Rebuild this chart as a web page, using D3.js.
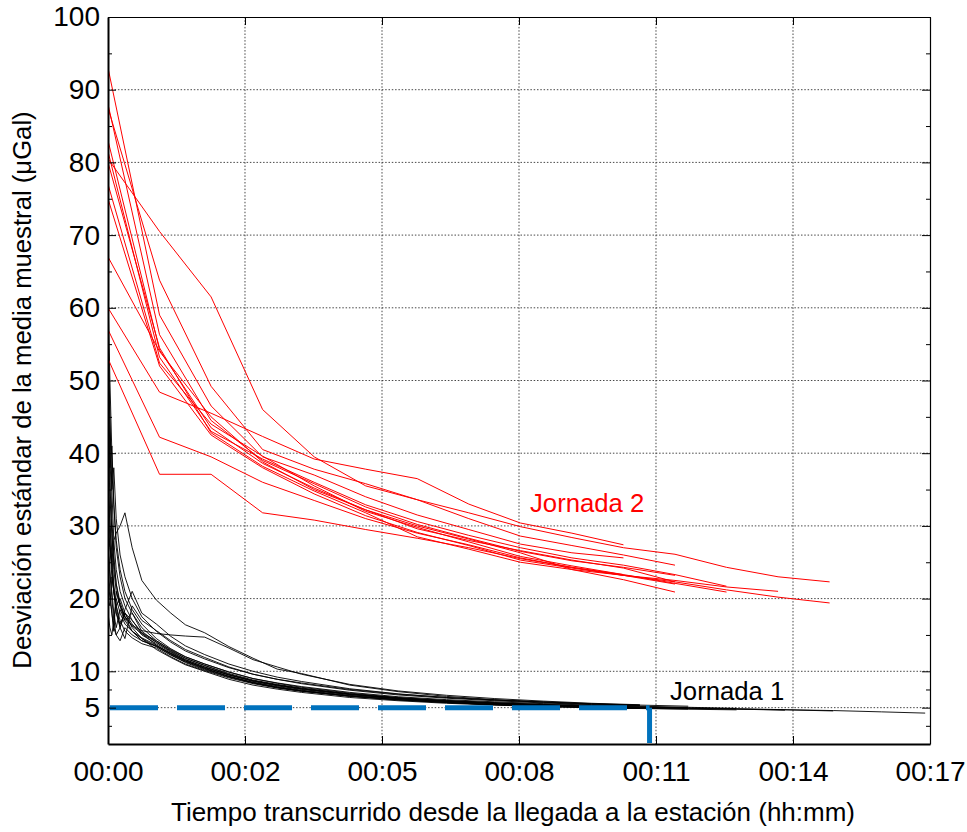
<!DOCTYPE html>
<html>
<head>
<meta charset="utf-8">
<script src="https://cdn.jsdelivr.net/npm/d3@7"></script>
<style>
  html, body { margin: 0; padding: 0; background: #fff; }
  svg text { font-family: Arial, "Liberation Sans", sans-serif; fill: #000; }
</style>
</head>
<body>
<svg id="chart" width="967" height="832"></svg>
<script>
// ---- Axis ticks -----------------------------------------------------------
const xTickValues = [0, 2.8333, 5.6667, 8.5, 11.3333, 14.1667, 17];   // minutes
const xTickLabels = ["00:00", "00:02", "00:05", "00:08", "00:11", "00:14", "00:17"];
const yTickValues = [5, 10, 20, 30, 40, 50, 60, 70, 80, 90, 100];
const yMinorTicks = [2.5, 7.5, 15, 25, 35, 45, 55, 65, 75, 85, 95];

// ---- Jornada 2 (red): one value per reading, readings every ~1.066 min ---
const redStep = 1.066;
const jornada2 = [
  [93, 59, 46.5, 39.5, 37.0, 34.0, 31.5, 29.5, 27.5, 26.3, 25.6],
  [88, 56.3, 44.5, 39.0, 35.8, 32.6, 30.2, 28.3, 26.5, 25.2, 24.3, 23.2],
  [87.5, 63.8, 49.2, 40.5, 37.8, 35.8, 33.6, 31.8, 29.9, 28.4, 27.0, 26.1, 24.3, 23.0, 22.3],
  [83, 54.2, 43.5, 38.6, 35.2, 32.2, 29.6, 28.0, 26.6, 25.3, 24.2, 22.3],
  [81.5, 53.2, 43.0, 39.2, 36.0, 32.9, 30.6, 28.7, 27.0, 25.6, 24.6, 23.3, 21.7],
  [80.5, 70.5, 61.5, 46.0, 39.5, 35.5, 33.6, 31.0, 28.6, 27.3, 26.0, 24.6],
  [80, 54.5, 42.8, 38.2, 34.8, 31.8, 28.5, 26.8, 25.0, 24.0, 23.2, 22.3, 21.2, 20.2, 19.4],
  [77, 52.4, 44.0, 39.6, 35.5, 32.0, 29.8, 27.8, 25.8, 24.5, 23.3, 22.1, 20.9],
  [75, 52.0, 42.5, 38.0, 34.4, 31.4, 29.1, 27.3, 25.3, 24.2, 23.2, 22.5, 21.6, 21.0],
  [67, 54.0, 45.0, 38.8, 35.0, 32.2, 30.0, 28.2, 26.3, 24.0, 22.6, 20.9],
  [60, 48.4, 45.5, 42.3, 39.2, 37.8, 36.5, 33.0, 30.4, 29.0, 27.4],
  [57, 42.2, 39.5, 36.0, 33.5, 31.0, 29.0, 27.4, 25.6, 24.3, 23.2, 22.0],
  [53, 37.1, 37.1, 31.8, 30.8, 29.5, 28.3, 27.0, 25.5, 24.3, 23.3]
];

// ---- Jornada 1 (black): values at the shared reading times below ---------
const blackTimes = [0, 0.04, 0.08, 0.12, 0.17, 0.25, 0.35, 0.5, 0.7, 1.0, 1.3, 1.6, 2.0, 2.5,
                    3.0, 3.5, 4.0, 5.0, 6.0, 7.0, 8.0, 9.0, 10.0, 11.0, 12.0, 13.0, 14.0,
                    15.0, 16.0, 16.9];
const jornada1 = [
  [62, 50, 40, 33, 28, 24, 21, 18.5, 16.5, 14.5, 13.1, 12.0, 11.0, 9.9, 9.0, 8.4, 7.9, 7.1, 6.5, 6.1, 5.8, 5.55, 5.35, 5.2, 5.05, 4.9],
  [55, 44, 35, 38, 31, 26, 23, 20, 17.5, 15.5, 14, 12.8, 11.7, 10.5, 9.6, 8.9, 8.4, 7.5, 6.85, 6.4, 6.05, 5.75, 5.5, 5.3],
  [48, 38, 41, 33, 27, 23, 20, 18, 16, 14.2, 12.9, 11.8, 10.8, 9.7, 8.8, 8.2, 7.7, 6.9, 6.35, 5.95, 5.65, 5.4, 5.2, 5.05, 4.95],
  [42, 34, 29, 25, 22, 19, 17, 18, 15.5, 14, 12.7, 11.6, 10.6, 9.5, 8.7, 8.1, 7.6, 6.85, 6.3, 5.9, 5.6, 5.35, 5.2, 5.05, 4.95, 4.85, 4.72, 4.6, 4.42, 4.25],
  [36, 30, 25, 21, 18, 16.5, 18, 16, 14.5, 13.4, 12.2, 11.3, 10.3, 9.3, 8.5, 7.9, 7.4, 6.7, 6.2, 5.85, 5.55, 5.3, 5.15, 5.0, 4.9, 4.8, 4.65],
  [31, 27, 23, 21, 19, 20, 18, 16.5, 15, 13.8, 12.6, 11.6, 10.6, 9.5, 8.6, 8.0, 7.5, 6.8, 6.25, 5.85, 5.55, 5.3, 5.12, 5.0, 4.9, 4.8, 4.7, 4.55],
  [27, 23, 21, 18, 16, 18.5, 17, 15.5, 14.2, 13.4, 12.3, 11.2, 10.2, 9.2, 8.4, 7.8, 7.3, 6.6, 6.1, 5.75, 5.45, 5.25, 5.08, 4.95],
  [23, 20, 18, 15.5, 21, 19, 17.5, 16.2, 15.2, 14.0, 12.8, 11.8, 10.8, 9.6, 8.7, 8.1, 7.6, 6.85, 6.3, 5.9, 5.6, 5.35, 5.15],
  [29, 27, 25, 28, 29, 30, 31.8, 27, 22.5, 19.8, 18, 16.4, 15.3, 13.4, 11.8, 10.3, 9.7, 8.1, 7.2, 6.55, 6.1, 5.8, 5.55, 5.35, 5.2],
  [46, 36, 29, 24, 21, 19, 17.5, 16.3, 15.6, 15.2, 15.0, 14.85, 14.7, 13.2, 11.6, 10.6, 9.6, 8.2, 7.3, 6.7, 6.25, 5.9, 5.6, 5.4],
  [58, 45, 35, 28, 24, 21, 19, 17, 15.2, 13.6, 12.4, 11.4, 10.5, 9.5, 8.7, 8.1, 7.6, 6.85, 6.3, 5.9, 5.6, 5.4, 5.22, 5.08, 4.97],
  [34, 28, 24, 21, 19, 17, 15.5, 14.6, 13.8, 13.2, 12.0, 11.0, 10.1, 9.1, 8.3, 7.7, 7.25, 6.55, 6.05, 5.7, 5.42, 5.2, 5.02, 4.9],
  [25, 21, 18, 16, 15, 14.2, 16, 15, 14.2, 13.5, 12.5, 11.5, 10.4, 9.3, 8.4, 7.75, 7.3, 6.6, 6.1, 5.7, 5.4, 5.18, 5.0, 4.88, 4.78, 4.7],
  [38, 31, 26, 22, 19, 16, 14.5, 19, 17, 15.6, 14.2, 13.0, 11.9, 10.6, 9.6, 8.9, 8.3, 7.4, 6.75, 6.3, 5.95, 5.65, 5.42, 5.25],
  [20, 19, 23, 21, 18, 16, 18, 17, 15.3, 14.2, 13.0, 12.0, 11.0, 9.9, 9.0, 8.35, 7.8, 7.0, 6.4, 6.0, 5.7, 5.45, 5.25, 5.1, 4.98],
  [51, 40, 31, 26, 22, 19.5, 17.5, 15.5, 14.5, 13.0, 11.9, 10.9, 10.0, 8.9, 8.1, 7.55, 7.1, 6.4, 5.95, 5.6, 5.35, 5.15, 5.0, 4.9],
  [28, 24, 20, 17, 15, 16, 18.5, 21, 18, 16.5, 14.8, 13.5, 12.3, 11.0, 10.0, 9.2, 8.6, 7.6, 6.9, 6.4, 6.05, 5.75, 5.5, 5.32],
  [18, 16, 15, 17, 20, 18, 16.5, 15.5, 14.6, 13.6, 12.4, 11.4, 10.4, 9.3, 8.45, 7.8, 7.3, 6.6, 6.1, 5.7, 5.4, 5.2, 5.03, 4.92, 4.82]
];

// ---- Threshold marker: 5 µGal reached at ~11.2 min -----------------------
const thresholdValue = 5;
const thresholdTime = 11.2;

// ---- Layout ----------------------------------------------------------------
const svg = d3.select("#chart");
const plot = { left: 108, right: 930, top: 17, bottom: 744 };
const fontFamily = "Arial, 'Liberation Sans', sans-serif";

const x = d3.scaleLinear().domain([0, 17]).range([plot.left, plot.right]);
const y = d3.scaleLinear().domain([0, 100]).range([plot.bottom, plot.top]);

svg.append("defs").append("clipPath").attr("id", "plotClip")
  .append("rect")
  .attr("x", plot.left).attr("y", plot.top)
  .attr("width", plot.right - plot.left).attr("height", plot.bottom - plot.top);

// grid
const grid = svg.append("g").attr("class", "grid")
  .attr("stroke", "#333").attr("stroke-width", 0.9).attr("stroke-dasharray", "1.5,1.8");
grid.selectAll("line.v").data(xTickValues.slice(1, -1)).join("line").attr("class", "v")
  .attr("x1", d => x(d)).attr("x2", d => x(d))
  .attr("y1", plot.top).attr("y2", plot.bottom);
grid.selectAll("line.h").data(yTickValues.slice(0, -1)).join("line").attr("class", "h")
  .attr("x1", plot.left).attr("x2", plot.right)
  .attr("y1", d => y(d)).attr("y2", d => y(d));

// data lines
const lines = svg.append("g").attr("clip-path", "url(#plotClip)");

const blackLine = d3.line().x((d, i) => x(blackTimes[i])).y(d => y(d));
lines.append("g").selectAll("path").data(jornada1).join("path")
  .attr("d", d => blackLine(d))
  .attr("fill", "none").attr("stroke", "#000").attr("stroke-width", 0.9)
  .attr("stroke-linejoin", "round");

const redLine = d3.line().x((d, i) => x(i * redStep)).y(d => y(d));
lines.append("g").selectAll("path").data(jornada2).join("path")
  .attr("d", d => redLine(d))
  .attr("fill", "none").attr("stroke", "#ff0000").attr("stroke-width", 1)
  .attr("stroke-linejoin", "round");

// threshold marker
const blue = "#0072bd";
svg.append("line")
  .attr("x1", x(0)).attr("x2", x(thresholdTime))
  .attr("y1", y(thresholdValue)).attr("y2", y(thresholdValue))
  .attr("stroke", blue).attr("stroke-width", 5)
  .attr("stroke-dasharray", "48,19").attr("stroke-dashoffset", 65);
svg.append("line")
  .attr("x1", x(thresholdTime)).attr("x2", x(thresholdTime))
  .attr("y1", y(thresholdValue)).attr("y2", y(0) - 1)
  .attr("stroke", blue).attr("stroke-width", 5);

// axes
const tickFont = 28;
const xAxisB = d3.axisBottom(x).tickValues(xTickValues).tickFormat((d, i) => xTickLabels[i])
  .tickSizeInner(-8).tickSizeOuter(0).tickPadding(17);
const gx = svg.append("g").attr("transform", `translate(0,${plot.bottom})`).call(xAxisB);
gx.select(".domain").attr("stroke-width", 2);
gx.selectAll("text").attr("font-size", tickFont).style("font-family", fontFamily);

const xAxisT = d3.axisTop(x).tickValues(xTickValues).tickFormat("").tickSizeInner(-8).tickSizeOuter(0);
svg.append("g").attr("transform", `translate(0,${plot.top})`).call(xAxisT)
  .select(".domain").attr("stroke-width", 1.2);

const yAxisL = d3.axisLeft(y).tickValues(yTickValues).tickFormat(d3.format("d"))
  .tickSizeInner(-8).tickSizeOuter(0).tickPadding(8);
const gy = svg.append("g").attr("transform", `translate(${plot.left},0)`).call(yAxisL);
gy.select(".domain").attr("stroke-width", 2);
gy.selectAll("text").attr("font-size", tickFont).style("font-family", fontFamily);

const yAxisLMinor = d3.axisLeft(y).tickValues(yMinorTicks).tickFormat("").tickSizeInner(-4).tickSizeOuter(0);
svg.append("g").attr("transform", `translate(${plot.left},0)`).call(yAxisLMinor)
  .select(".domain").remove();

const yAxisR = d3.axisRight(y).tickValues(yTickValues).tickFormat("").tickSizeInner(-8).tickSizeOuter(0);
svg.append("g").attr("transform", `translate(${plot.right},0)`).call(yAxisR)
  .select(".domain").attr("stroke-width", 1.2);
const yAxisRMinor = d3.axisRight(y).tickValues(yMinorTicks).tickFormat("").tickSizeInner(-4).tickSizeOuter(0);
svg.append("g").attr("transform", `translate(${plot.right},0)`).call(yAxisRMinor)
  .select(".domain").remove();

// axis titles
svg.append("text")
  .attr("x", 513).attr("y", 821)
  .attr("text-anchor", "middle").attr("font-size", 26)
  .text("Tiempo transcurrido desde la llegada a la estación (hh:mm)");
svg.append("text")
  .attr("transform", `translate(31,${(112 + 668) / 2}) rotate(-90)`)
  .attr("text-anchor", "middle").attr("font-size", 25.7)
  .text("Desviación estándar de la media muestral (μGal)");

// series labels
svg.append("text").attr("x", 530).attr("y", 512).attr("font-size", 25.7)
  .style("fill", "#ff0000").text("Jornada 2");
svg.append("text").attr("x", 670).attr("y", 700).attr("font-size", 25.7)
  .text("Jornada 1");
</script>
</body>
</html>
